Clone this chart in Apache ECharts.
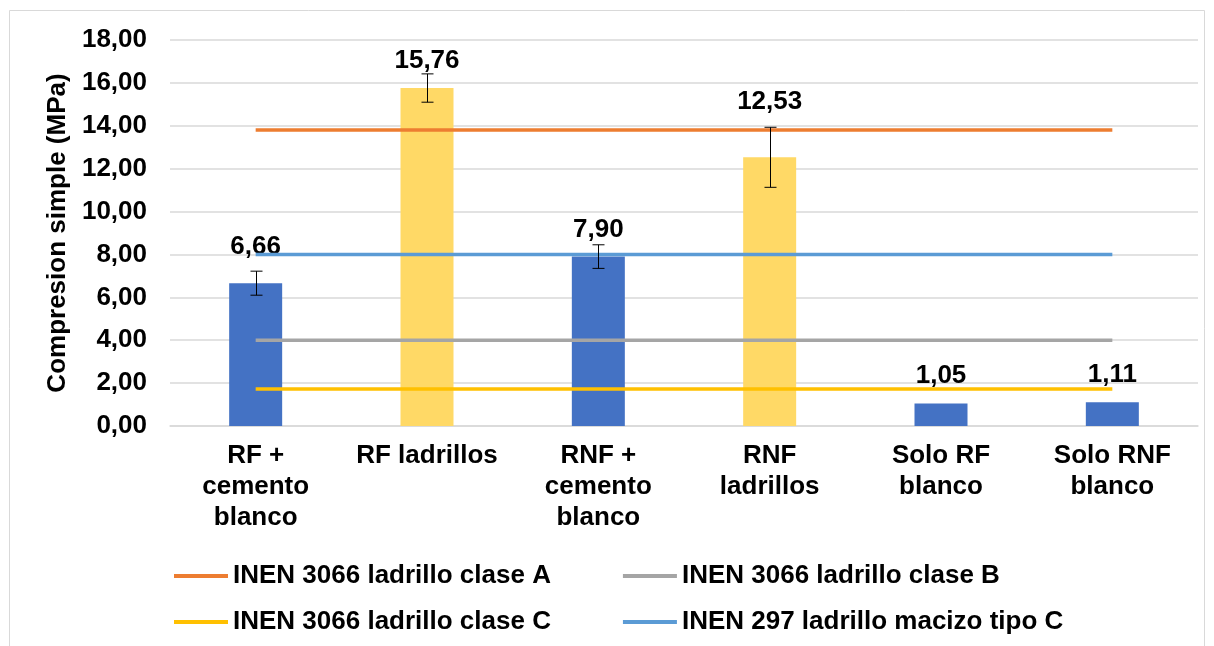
<!DOCTYPE html>
<html>
<head>
<meta charset="utf-8">
<script src="https://cdn.jsdelivr.net/npm/echarts@6/dist/echarts.min.js"></script>
<style>
  html, body { margin: 0; padding: 0; background: #fff; }
  #chart { width: 1214px; height: 646px; }
</style>
</head>
<body>
<div id="chart"></div>
<script>
// categorias y valores
var categories = ['RF +\ncemento\nblanco', 'RF ladrillos', 'RNF +\ncemento\nblanco', 'RNF\nladrillos', 'Solo RF\nblanco', 'Solo RNF\nblanco'];
var compresion = [6.66, 15.76, 7.90, 12.53, 1.05, 1.11];
var desviacion = [0.56, 0.66, 0.55, 1.40, 0, 0];
// limites normativos
var claseA = [13.8, 13.8, 13.8, 13.8, 13.8, 13.8];
var claseB = [4.0, 4.0, 4.0, 4.0, 4.0, 4.0];
var claseC = [1.72, 1.72, 1.72, 1.72, 1.72, 1.72];
var macizoC = [8.0, 8.0, 8.0, 8.0, 8.0, 8.0];

// estilo
var barColors = ['#4472C4', '#FFD966', '#4472C4', '#FFD966', '#4472C4', '#4472C4'];
var labelLift = [23, 14, 14, 42, 15, 14];
var FONT = "'Liberation Sans', Arial, sans-serif";

function coma(v) { return Number(v).toFixed(2).replace('.', ','); }

var chart = echarts.init(document.getElementById('chart'));

function lineSerie(name, data, color) {
    return {
        name: name, type: 'line', data: data, symbol: 'none',
        lineStyle: { color: color, width: 3.5 }, itemStyle: { color: color },
        z: 3, silent: true
    };
}

var option = {
    backgroundColor: '#fff',
    animation: false,
    textStyle: { fontFamily: FONT },
    graphic: [{
        type: 'rect', shape: { x: 9.5, y: 10.5, width: 1195, height: 650 },
        style: { fill: 'none', stroke: '#d9d9d9', lineWidth: 1 }, silent: true
    }],
    grid: { left: 170, right: 16, top: 40, bottom: 220 },
    legend: [{
        data: ['INEN 3066 ladrillo clase A', 'INEN 3066 ladrillo clase B'],
        left: 169, top: 558, itemGap: 72, itemWidth: 54, itemHeight: 4, icon: 'rect',
        textStyle: { fontSize: 26, fontWeight: 'bold', color: '#000', fontFamily: FONT }
    }, {
        data: ['INEN 3066 ladrillo clase C', 'INEN 297 ladrillo macizo tipo C'],
        left: 169, top: 604, itemGap: 72, itemWidth: 54, itemHeight: 4, icon: 'rect',
        textStyle: { fontSize: 26, fontWeight: 'bold', color: '#000', fontFamily: FONT }
    }],
    xAxis: {
        type: 'category', data: categories,
        axisLine: { lineStyle: { color: '#d9d9d9', width: 1.5 } },
        axisTick: { show: false },
        axisLabel: { color: '#000', fontSize: 26, fontWeight: 'bold', lineHeight: 31, margin: 14, interval: 0, fontFamily: FONT }
    },
    yAxis: {
        type: 'value', min: 0, max: 18, interval: 2,
        name: 'Compresion simple (MPa)', nameLocation: 'middle', nameGap: 97,
        nameTextStyle: { color: '#000', fontSize: 26, fontWeight: 'bold', fontFamily: FONT },
        axisLine: { show: false }, axisTick: { show: false },
        axisLabel: { color: '#000', fontSize: 26, fontWeight: 'bold', margin: 23, formatter: coma, fontFamily: FONT },
        splitLine: { lineStyle: { color: '#d9d9d9', width: 1.5 } }
    },
    series: [{
        name: 'Compresion', type: 'bar', barWidth: 53, z: 2,
        data: compresion.map(function (v, i) {
            return {
                value: v, itemStyle: { color: barColors[i] },
                label: { distance: labelLift[i] }
            };
        }),
        label: {
            show: true, position: 'top', color: '#000', fontSize: 26, fontWeight: 'bold',
            fontFamily: FONT, formatter: function (p) { return coma(p.value); }
        }
    },
    lineSerie('INEN 3066 ladrillo clase A', claseA, '#ED7D31'),
    lineSerie('INEN 3066 ladrillo clase B', claseB, '#A5A5A5'),
    lineSerie('INEN 3066 ladrillo clase C', claseC, '#FFC000'),
    lineSerie('INEN 297 ladrillo macizo tipo C', macizoC, '#5B9BD5'),
    {
        name: 'error', type: 'custom', z: 4, silent: true,
        data: compresion.map(function (v, i) { return [i, v - desviacion[i], v + desviacion[i]]; }),
        renderItem: function (params, api) {
            if (api.value(2) === api.value(1)) return null;
            var lo = api.coord([api.value(0), api.value(1)]);
            var hi = api.coord([api.value(0), api.value(2)]);
            var x = Math.round(lo[0]) + 0.5, c = 6;
            var st = { stroke: '#000', lineWidth: 1 };
            return {
                type: 'group', children: [
                    { type: 'line', shape: { x1: x, y1: lo[1], x2: x, y2: hi[1] }, style: st },
                    { type: 'line', shape: { x1: x - c, y1: lo[1], x2: x + c, y2: lo[1] }, style: st },
                    { type: 'line', shape: { x1: x - c, y1: hi[1], x2: x + c, y2: hi[1] }, style: st }
                ]
            };
        }
    }]
};

chart.setOption(option);
</script>
</body>
</html>
